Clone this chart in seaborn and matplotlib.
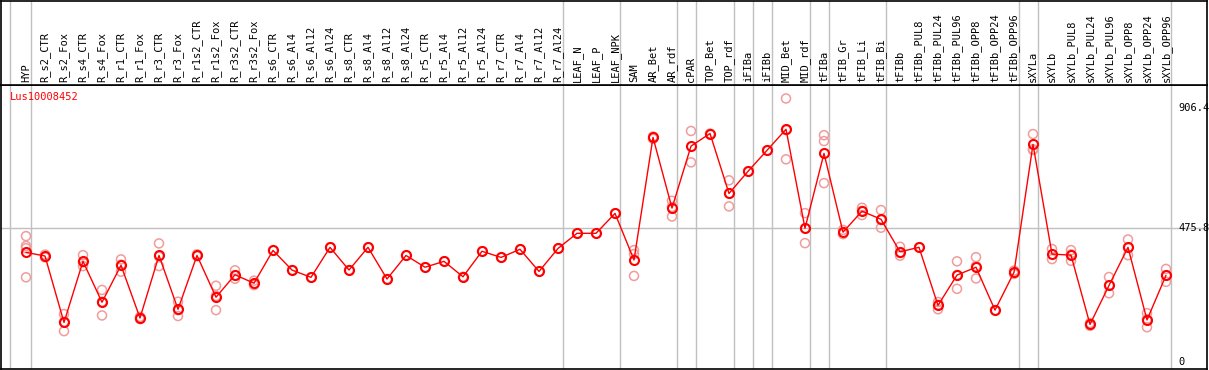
import matplotlib
matplotlib.use("Agg")
import matplotlib.pyplot as plt
import seaborn as sns
import pandas as pd

# sample labels, read left to right
samples = [
    "HYP", "R_s2_CTR", "R_s2_Fox", "R_s4_CTR", "R_s4_Fox", "R_r1_CTR", "R_r1_Fox",
    "R_r3_CTR", "R_r3_Fox", "R_r1s2_CTR", "R_r1s2_Fox", "R_r3s2_CTR", "R_r3s2_Fox",
    "R_s6_CTR", "R_s6_Al4", "R_s6_Al12", "R_s6_Al24", "R_s8_CTR", "R_s8_Al4",
    "R_s8_Al12", "R_s8_Al24", "R_r5_CTR", "R_r5_Al4", "R_r5_Al12", "R_r5_Al24",
    "R_r7_CTR", "R_r7_Al4", "R_r7_Al12", "R_r7_Al24", "LEAF_N", "LEAF_P", "LEAF_NPK",
    "SAM", "AR_Bet", "AR_rdf", "cPAR", "TOP_Bet", "TOP_rdf", "iFIBa", "iFIBb",
    "MID_Bet", "MID_rdf", "tFIBa", "tFIB_Gr", "tFIB_Li", "tFIB_Bi", "tFIBb",
    "tFIBb_PUL8", "tFIBb_PUL24", "tFIBb_PUL96", "tFIBb_OPP8", "tFIBb_OPP24",
    "tFIBb_OPP96", "sXYLa", "sXYLb", "sXYLb_PUL8", "sXYLb_PUL24", "sXYLb_PUL96",
    "sXYLb_OPP8", "sXYLb_OPP24", "sXYLb_OPP96",
]

# mean expression per sample
means = [
    390, 377, 140, 358, 212, 344, 156, 379, 187, 379, 230, 310, 280,
    397, 327, 301, 408, 327, 408, 295, 379, 337, 358, 303, 394,
    372, 401, 322, 404, 458, 458, 529,
    363, 800, 548, 769, 814, 600, 679, 754,
    829, 476, 743, 462, 537, 508, 392,
    408, 201, 309, 337, 184, 319,
    775, 384, 380, 133, 272, 408, 149, 308,
]

# single replicates per sample
replicates = [
    [448, 413, 405, 301], [382, 372], [170, 142, 109], [380, 354, 341],
    [256, 214, 165], [365, 346, 321], [160, 152], [422, 375, 341],
    [214, 184, 163], [383, 376], [271, 235, 184], [326, 308, 296],
    [289, 278, 273], [397], [327], [301], [408], [327], [408], [295],
    [379], [337], [358], [303], [394], [372], [401], [322], [404],
    [458], [458], [529],
    [398, 384, 306], [803, 795], [574, 552, 518], [823, 711], [814],
    [647, 600, 554], [679], [754], [939, 826, 722], [530, 476, 423],
    [808, 787, 637], [470, 455], [549, 538, 523], [541, 505, 478],
    [410, 388, 378], [408], [213, 203, 187], [358, 309, 260],
    [373, 341, 297], [184], [325, 313],
    [812, 758, 755], [402, 366], [398, 383, 360], [138, 128],
    [302, 272, 244], [436, 408, 380], [173, 152, 123], [331, 308, 285],
]

# number of samples in each tissue group (gray separators)
group_sizes = [1, 28, 3, 3, 1, 2, 1, 1, 2, 1, 3, 7, 1, 7]

y_ticks = [0, 475.8, 906.4]
gene = "Lus10008452"

mean_df = pd.DataFrame({"pos": range(len(samples)), "value": means})
rep_df = pd.DataFrame(
    [(i, v) for i, reps in enumerate(replicates) for v in reps],
    columns=["pos", "value"],
)

sns.set_style("white")
plt.rcParams["font.family"] = ["DejaVu Sans Mono"]

W, H = 1209, 370
fig = plt.figure(figsize=(W / 100, H / 100), dpi=100)
x_lim = (-25 / 19, 1181 / 19)

ax = fig.add_axes([1 / W, 1 / H, 1206 / W, 284 / H])
hdr = fig.add_axes([1 / W, 285 / H, 1206 / W, 84.5 / H])

# separators
bounds = [-0.82]
end = -1
for n in group_sizes:
    end += n
    bounds.append(end + 0.25)
for a in (ax, hdr):
    for b in bounds:
        a.axvline(b, color="#c0c0c0", lw=1, zorder=0)
    a.set_xlim(*x_lim)
    a.set_xticks([])
    a.set_yticks([])
    for s in a.spines.values():
        s.set_color("black")
        s.set_linewidth(1.2)

hdr.set_ylim(0, 1)
for i, name in enumerate(samples):
    hdr.text(i, 0.03, name, rotation=90, ha="center", va="bottom",
             fontsize=7.5, color="black")

ax.set_ylim(-26, 987)
ax.axhline(475.8, color="#c0c0c0", lw=1, zorder=0)

sns.scatterplot(data=rep_df, x="pos", y="value", ax=ax, marker="o", s=42,
                facecolor="none", edgecolor="#f09c9c", linewidth=1.1, zorder=2)
sns.lineplot(data=mean_df, x="pos", y="value", ax=ax, sort=False, color="red",
             linewidth=1, marker="o", markersize=6.5, markerfacecolor="none",
             markeredgecolor="red", markeredgewidth=1.5, zorder=3)
ax.set_xlabel("")
ax.set_ylabel("")
ax.set_xlim(*x_lim)

for t in y_ticks:
    ax.text(1177 / 1206, t, f"{t:g}", transform=ax.get_yaxis_transform(),
            ha="left", va="center", fontsize=7.5, color="black")

ax.text(9 / 1206, 0.958, gene, transform=ax.transAxes, ha="left", va="center",
        fontsize=7.5, color="red")

fig.savefig("out.png", dpi=100)
